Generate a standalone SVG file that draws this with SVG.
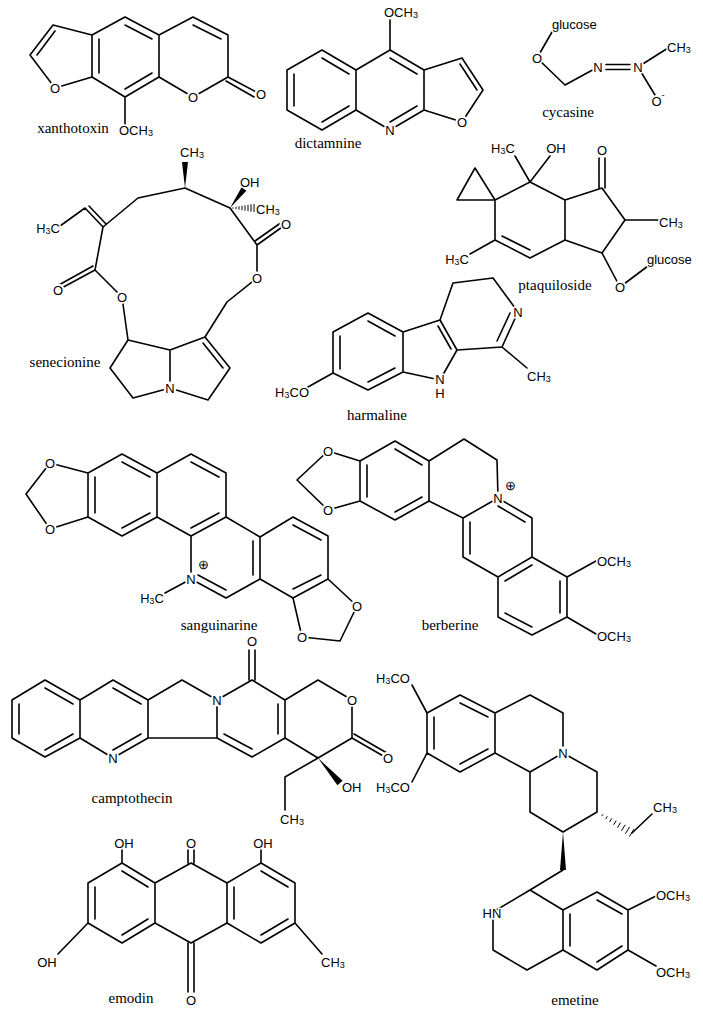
<svg xmlns="http://www.w3.org/2000/svg" width="703" height="1014" viewBox="0 0 703 1014">
<style>
.b{fill:none;stroke:#000;stroke-width:1.6;stroke-linejoin:round;stroke-linecap:round}
.h{stroke:#000;stroke-width:1}
.k{fill:#fff}
.a{font-family:"Liberation Sans",Arial,sans-serif;font-size:13px;fill:#000;dominant-baseline:central;stroke:#fff;stroke-width:3;paint-order:stroke fill;stroke-linejoin:round}
.m{text-anchor:middle}
.e{text-anchor:end}
.l{font-family:"Liberation Serif","Times New Roman",serif;font-size:15px;fill:#000;text-anchor:middle;dominant-baseline:central}
</style>
<rect width="703" height="1014" fill="#fff"/>
<g id="connectors">
<path class="b" d="M125,17 L92,35 L92,77 L125,97 L159,77 L159,35 Z M159,35 L193,17 L228,35 L228,77 L193,97 L159,77 M92,35 L53,25 L30,55 L55,88 L92,77 M125,97 L125,124 M125,25 L152,39 M99,39 L99,73 M125,89 L152,73 M193,25 L221,39 M55,31 L37,55 M228,77 L258,93 M226,81 L254,97"/>
<path class="b" d="M322,50 L287,70 L287,110 L322,130 L356,110 L356,70 Z M356,70 L390,50 L424,70 L424,110 L390,130 L356,110 M424,70 L462,58 L483,90 L462,122 L424,110 M390,50 L390,20 M322,58 L349,74 M294,74 L294,106 M322,122 L349,106 M390,58 L417,74 M390,122 L417,106 M460,64 L477,90"/>
<path class="b" d="M552,32 L537,58 L565,85 L598,67 M606,64.5 L630,64.5 M606,69.5 L630,69.5 M638,67 L668,48 M638,67 L658,100"/>
<path class="b" d="M138,198 L185,188 L230,208 L257,245 L257,278 L227,302 L205,337 L230,368 L208,400 L170,388 L133,398 L110,368 L128,340 L122,297 L95,270 L103,227 L138,198 M128,340 L170,350 L205,337 M170,350 L170,388 M203,343 L223,368 M103,227 L85,208 L60,226 M106,224 L89,206 M95,270 L58,290 M93,266 L57,286 M257,245 L285,225 M255,241 L282,222"/>
<polygon points="185,188 182,162 188,162"/>
<polygon points="230,208 246.4,190.8 241.6,187.2"/>
<path class="h" d="M233,207.3V208.7 M236,206.8V209.2 M239,206.3V209.7 M242,205.8V210.2 M245,205.3V210.7 M248,204.8V211.2 M251,204.3V211.7 M254,204V212"/>
<path class="b" d="M457,200 L475,168 L495,200 Z M495,200 L530,182 L565,200 L565,240 L530,258 L495,240 Z M565,200 L602,188 L625,220 L602,253 L565,240 M530,250 L502,236 M495,240 L470,254 M530,182 L515,156 M530,182 L550,156 M599,188 L599,158 M605,188 L605,158 M625,220 L658,220 M602,253 L620,287 L648,266"/>
<path class="b" d="M368,313 L333,332 L333,373 L368,390 L403,372 L403,332 Z M403,332 L440,320 L457,350 L440,380 L403,372 M440,320 L453,283 L493,278 L518,312 L502,347 L457,350 M368,321 L395,336 M340,336 L340,369 M368,382 L395,368 M438,326 L451,349 M510,313 L497,341 M502,347 L527,368 M333,373 L308,387"/>
<path class="b" d="M122,454 L88,473 L88,517 L122,536 L157,517 L157,473 Z M157,473 L191,454 L226,473 L226,517 L191,536 L157,517 M191,536 L191,579 L226,598 L260,579 L260,537 L226,517 M260,537 L293,517 L328,536 L328,579 L293,598 L260,579 M88,473 L50,463 L26,494 L50,529 L88,517 M328,579 L357,606 L340,641 L302,637 L293,598 M122,462 L150,477 M95,477 L95,513 M122,528 L150,513 M191,462 L219,477 M219,513 L191,528 M198,575 L226,590 M253,541 L253,575 M293,525 L321,540 M321,575 L293,589 M191,579 L165,593"/>
<path class="b" d="M395,441 L360,461 L360,501 L395,520 L429,501 L429,461 Z M429,461 L464,439 L497,460 L498,498 L463,518 L429,501 M498,498 L532,518 L532,557 L498,577 L463,557 L463,518 M532,557 L567,577 L567,617 L532,635 L498,617 L498,577 M360,461 L328,451 L297,480 L328,510 L360,501 M395,449 L422,465 M367,465 L367,497 M395,512 L422,497 M498,506 L525,522 M470,522 L470,554 M532,565 L505,581 M560,581 L560,613 M505,613 L532,627 M567,577 L596,561 M567,617 L596,634"/>
<path class="b" d="M45,680 L12,700 L12,738 L45,757 L80,738 L80,700 Z M80,700 L113,680 L148,700 L148,738 L113,758 L80,738 M148,700 L182,680 L217,700 L217,738 L148,738 M217,700 L252,680 L285,700 L285,738 L252,757 L217,738 M285,700 L318,680 L352,700 L352,738 L318,758 L285,738 M45,688 L73,704 M19,704 L19,734 M45,750 L73,734 M113,688 L141,704 M141,734 L113,750 M224,734 L252,749 M278,704 L278,734 M249,680 L249,650 M255,680 L255,650 M352,738 L385,757 M354,734 L387,753 M318,758 L285,777 L285,810"/>
<polygon points="318,758 342.6,780.7 337.4,785.3"/>
<path class="b" d="M191,863 L227,883 L227,923 L191,943 L155,923 L155,883 Z M155,883 L122,863 L88,883 L88,923 L122,943 L155,923 M227,883 L261,863 L295,883 L295,923 L261,943 L227,923 M122,871 L148,887 M95,887 L95,919 M122,935 L148,919 M261,871 L288,887 M234,887 L234,919 M261,935 L288,919 M188,863 L188,850 M194,863 L194,850 M188,943 L188,992 M194,943 L194,992 M122,863 L122,850 M261,863 L261,850 M88,923 L58,954 M295,923 L322,954"/>
<path class="b" d="M460,695 L427,713 L427,753 L460,772 L495,753 L495,713 Z M495,713 L530,695 L563,713 L563,753 L530,772 L495,753 M563,753 L597,772 L597,812 L563,832 L530,812 L530,772 M460,703 L488,717 M434,717 L434,749 M460,764 L488,749 M427,713 L412,685 M427,753 L412,782 M632,833 L652,814 M563,870 L530,890 L493,912 M493,920 L493,950 L527,970 L563,950 L563,910 L530,890 M563,910 L597,892 L628,910 L628,950 L597,970 L563,950 M597,900 L622,914 M622,946 L597,962 M570,914 L570,946 M628,910 L656,896 M628,950 L656,966"/>
<polygon points="563,832 566,870 560,870"/>
<path class="h" d="M601.7,816.1L602.9,814.3 M605.7,819.1L607.3,816.3 M609.6,822L611.8,818.4 M613.6,824.8L616.2,820.6 M617.5,827.8L620.5,822.6 M621.5,830.8L625.1,824.8 M625.4,833.7L629.6,826.9 M629.4,836.6L634,829"/>
</g>
<g id="xanthotoxin">
<circle class="k" cx="55" cy="88" r="6.5"/><circle class="k" cx="193" cy="97" r="6.5"/><circle class="k" cx="261" cy="94" r="6.5"/>
<text class="a m" x="55" y="88">O</text><text class="a m" x="193" y="97">O</text><text class="a m" x="261" y="94">O</text>
<text class="a" x="119" y="130">OCH<tspan font-size="9" dy="3">3</tspan></text>
<text class="l" x="73" y="128">xanthotoxin</text>
</g>
<g id="dictamnine">
<circle class="k" cx="390" cy="130" r="6.5"/><circle class="k" cx="462" cy="122" r="6.5"/>
<text class="a" x="384" y="12">OCH<tspan font-size="9" dy="3">3</tspan></text>
<text class="a m" x="390" y="130">N</text><text class="a m" x="462" y="122">O</text>
<text class="l" x="328" y="143">dictamnine</text>
</g>
<g id="cycasine">
<circle class="k" cx="537" cy="58" r="6.5"/><circle class="k" cx="598" cy="67" r="6.5"/><circle class="k" cx="638" cy="67" r="6.5"/><circle class="k" cx="658" cy="101" r="6.5"/>
<text class="a" x="552" y="24">glucose</text>
<text class="a m" x="537" y="58">O</text><text class="a m" x="598" y="67">N</text><text class="a m" x="638" y="67">N</text>
<text class="a" x="667" y="47">CH<tspan font-size="9" dy="3">3</tspan></text>
<text class="a m" x="658" y="101">O<tspan font-size="9" dy="-6">-</tspan></text>
<text class="l" x="568" y="112">cycasine</text>
</g>
<g id="senecionine">
<circle class="k" cx="58" cy="290" r="6.5"/><circle class="k" cx="122" cy="297" r="6.5"/><circle class="k" cx="257" cy="278" r="6.5"/><circle class="k" cx="286" cy="224" r="6.5"/><circle class="k" cx="170" cy="388" r="6.5"/>
<text class="a m" x="192" y="152">CH<tspan font-size="9" dy="3">3</tspan></text>
<text class="a" x="240" y="182">OH</text>
<text class="a" x="256" y="209">CH<tspan font-size="9" dy="3">3</tspan></text>
<text class="a e" x="60" y="228">H<tspan font-size="9" dy="3">3</tspan><tspan dy="-3">C</tspan></text>
<text class="a m" x="58" y="290">O</text><text class="a m" x="122" y="297">O</text><text class="a m" x="257" y="278">O</text><text class="a m" x="286" y="224">O</text>
<text class="a m" x="170" y="388">N</text>
<text class="l" x="65" y="362">senecionine</text>
</g>
<g id="ptaquiloside">
<circle class="k" cx="602" cy="150" r="6.5"/><circle class="k" cx="620" cy="287" r="6.5"/>
<text class="a m" x="503" y="148">H<tspan font-size="9" dy="3">3</tspan><tspan dy="-3">C</tspan></text>
<text class="a m" x="556" y="148">OH</text>
<text class="a m" x="602" y="150">O</text>
<text class="a" x="659" y="222">CH<tspan font-size="9" dy="3">3</tspan></text>
<text class="a e" x="469" y="259">H<tspan font-size="9" dy="3">3</tspan><tspan dy="-3">C</tspan></text>
<text class="a m" x="620" y="287">O</text>
<text class="a" x="647" y="259">glucose</text>
<text class="l" x="555" y="285">ptaquiloside</text>
</g>
<g id="harmaline">
<circle class="k" cx="518" cy="312" r="6.5"/><circle class="k" cx="440" cy="380" r="6.5"/>
<text class="a m" x="518" y="312">N</text>
<text class="a m" x="440" y="379">N</text><text class="a m" x="440" y="393">H</text>
<text class="a" x="527" y="376">CH<tspan font-size="9" dy="3">3</tspan></text>
<text class="a e" x="309" y="392">H<tspan font-size="9" dy="3">3</tspan><tspan dy="-3">CO</tspan></text>
<text class="l" x="377" y="415">harmaline</text>
</g>
<g id="sanguinarine">
<circle class="k" cx="50" cy="463" r="6.5"/><circle class="k" cx="50" cy="529" r="6.5"/><circle class="k" cx="357" cy="606" r="6.5"/><circle class="k" cx="302" cy="637" r="6.5"/><circle class="k" cx="191" cy="579" r="6.5"/>
<text class="a m" x="50" y="463">O</text><text class="a m" x="50" y="529">O</text><text class="a m" x="357" y="606">O</text><text class="a m" x="302" y="637">O</text>
<text class="a m" x="191" y="579">N</text>
<text class="a m" x="203" y="564" font-size="11">⊕</text>
<text class="a e" x="164" y="598">H<tspan font-size="9" dy="3">3</tspan><tspan dy="-3">C</tspan></text>
<text class="l" x="219" y="625">sanguinarine</text>
</g>
<g id="berberine">
<circle class="k" cx="328" cy="451" r="6.5"/><circle class="k" cx="328" cy="510" r="6.5"/><circle class="k" cx="498" cy="498" r="6.5"/>
<text class="a m" x="328" y="451">O</text><text class="a m" x="328" y="510">O</text>
<text class="a m" x="498" y="498">N</text>
<text class="a m" x="510" y="485" font-size="11">⊕</text>
<text class="a" x="597" y="561">OCH<tspan font-size="9" dy="3">3</tspan></text>
<text class="a" x="597" y="636">OCH<tspan font-size="9" dy="3">3</tspan></text>
<text class="l" x="450" y="625">berberine</text>
</g>
<g id="camptothecin">
<circle class="k" cx="113" cy="758" r="6.5"/><circle class="k" cx="217" cy="700" r="6.5"/><circle class="k" cx="252" cy="641" r="6.5"/><circle class="k" cx="352" cy="700" r="6.5"/><circle class="k" cx="388" cy="758" r="6.5"/>
<text class="a m" x="113" y="758">N</text><text class="a m" x="217" y="700">N</text>
<text class="a m" x="252" y="641">O</text><text class="a m" x="352" y="700">O</text><text class="a m" x="388" y="758">O</text>
<text class="a" x="342" y="787">OH</text>
<text class="a m" x="292" y="819">CH<tspan font-size="9" dy="3">3</tspan></text>
<text class="l" x="132" y="798">camptothecin</text>
</g>
<g id="emodin">
<circle class="k" cx="191" cy="843" r="6.5"/><circle class="k" cx="191" cy="1000" r="6.5"/>
<text class="a m" x="124" y="843">OH</text><text class="a m" x="191" y="843">O</text><text class="a m" x="263" y="843">OH</text>
<text class="a m" x="47" y="962">OH</text>
<text class="a" x="321" y="962">CH<tspan font-size="9" dy="3">3</tspan></text>
<text class="a m" x="191" y="1000">O</text>
<text class="l" x="131" y="998">emodin</text>
</g>
<g id="emetine">
<circle class="k" cx="563" cy="753" r="6.5"/>
<text class="a m" x="393" y="678">H<tspan font-size="9" dy="3">3</tspan><tspan dy="-3">CO</tspan></text>
<text class="a m" x="393" y="787">H<tspan font-size="9" dy="3">3</tspan><tspan dy="-3">CO</tspan></text>
<text class="a m" x="563" y="753">N</text>
<text class="a m" x="665" y="807">CH<tspan font-size="9" dy="3">3</tspan></text>
<text class="a m" x="492" y="913">HN</text>
<text class="a" x="656" y="895">OCH<tspan font-size="9" dy="3">3</tspan></text>
<text class="a" x="656" y="972">OCH<tspan font-size="9" dy="3">3</tspan></text>
<text class="l" x="575" y="1000">emetine</text>
</g>
</svg>
